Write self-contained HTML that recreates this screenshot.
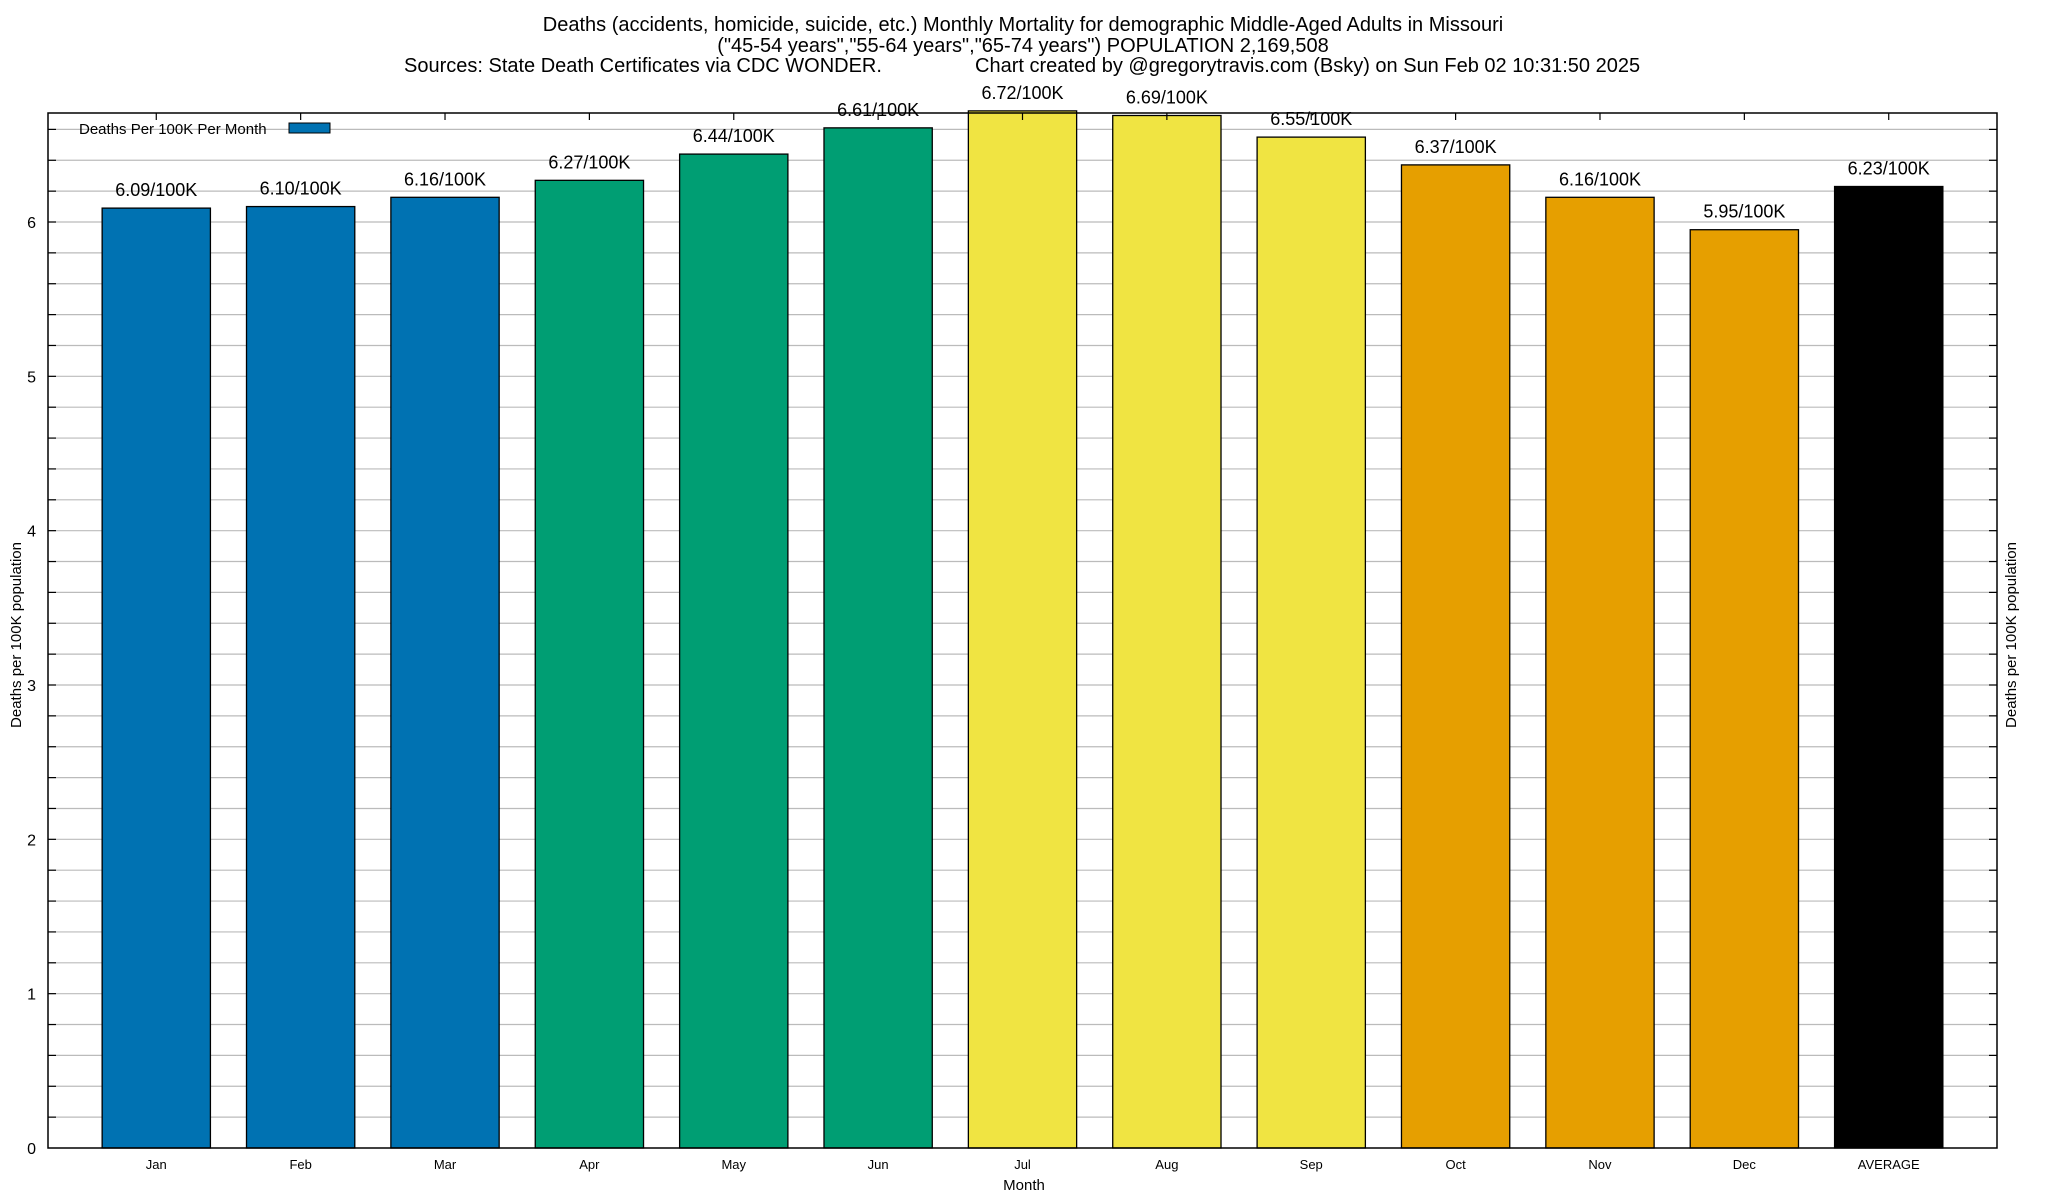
<!DOCTYPE html>
<html><head><meta charset="utf-8"><style>
body{margin:0;background:#fff}
svg{display:block;font-family:"Liberation Sans",Arial,sans-serif}
</style></head><body>
<svg id="chart" width="2048" height="1200" viewBox="0 0 2048 1200">
<g font-size="20" fill="#000" text-anchor="middle">
<text x="1023" y="31">Deaths (accidents, homicide, suicide, etc.) Monthly Mortality for demographic Middle-Aged Adults in Missouri</text>
<text x="1023" y="52">("45-54 years","55-64 years","65-74 years") POPULATION 2,169,508</text>
<text x="404" y="72" text-anchor="start">Sources: State Death Certificates via CDC WONDER.</text>
<text x="975" y="72" text-anchor="start">Chart created by @gregorytravis.com (Bsky) on Sun Feb 02 10:31:50 2025</text>
</g>
<g id="grid"></g>
<g id="bars"></g>
<rect x="48" y="113" width="1949" height="1035" fill="none" stroke="#000" stroke-width="1.5"/>
<g id="axes"></g>
<g>
<text x="79" y="134" font-size="15">Deaths Per 100K Per Month</text>
<rect x="289" y="123" width="41" height="10" fill="#0072b2" stroke="#000"/>
</g>
<text x="1024" y="1190" font-size="15" text-anchor="middle">Month</text>
<text transform="translate(21,635) rotate(-90)" font-size="15" text-anchor="middle">Deaths per 100K population</text>
<text transform="translate(2016,635) rotate(-90)" font-size="15" text-anchor="middle">Deaths per 100K population</text>
</svg>
<script>
const categories=["Jan","Feb","Mar","Apr","May","Jun","Jul","Aug","Sep","Oct","Nov","Dec","AVERAGE"];
const values=[6.09,6.10,6.16,6.27,6.44,6.61,6.72,6.69,6.55,6.37,6.16,5.95,6.23];
const barColors=["#0072b2","#0072b2","#0072b2","#009e73","#009e73","#009e73","#f0e442","#f0e442","#f0e442","#e69f00","#e69f00","#e69f00","#000000"];
const yTicks=[0,1,2,3,4,5,6];
const NS="http://www.w3.org/2000/svg";
const L=48,R=1997,T=113,B=1148;
const xMin=-0.75,xMax=12.75;
const yScale=(B-222)/6;
function X(i){return L+(i-xMin)/(xMax-xMin)*(R-L);}
function Y(v){return B-v*yScale;}
function mk(tag,attrs,parent){const e=document.createElementNS(NS,tag);for(const k in attrs)e.setAttribute(k,attrs[k]);parent.appendChild(e);return e;}
const grid=document.getElementById('grid'),bars=document.getElementById('bars'),axes=document.getElementById('axes');
for(let k=1;k*0.2<=6.71;k++){
  const y=Y(k*0.2);
  const g=mk('line',{x1:L,x2:R,y1:y,y2:y,stroke:'#bbb','stroke-width':1.2},grid);
  
  
  const t1=mk('line',{x1:L,x2:L+8,y1:y,y2:y,stroke:'#000','stroke-width':1.2},axes);
  
  
  const t2=mk('line',{x1:R-8,x2:R,y1:y,y2:y,stroke:'#000','stroke-width':1.2},axes);
  
  
}
yTicks.forEach(v=>{
  const t=mk('text',{x:L-12,y:Y(v)+6,'font-size':16,'text-anchor':'end'},axes);
  t.textContent=v;
  
  
});
categories.forEach((c,i)=>{
  const cx=X(i),w=0.75*(R-L)/(xMax-xMin);
  const r=mk('rect',{x:cx-w/2,y:Y(values[i]),width:w,height:B-Y(values[i]),fill:barColors[i],stroke:'#000','stroke-width':1.3},bars);
  
  
  const lb=mk('text',{x:cx,y:Y(values[i])-12,'font-size':18,'text-anchor':'middle'},bars);
  lb.textContent=values[i].toFixed(2)+"/100K";
  
  
  const tk=mk('line',{x1:cx,x2:cx,y1:T,y2:T+7,stroke:'#000','stroke-width':1.2},axes);
  
  
  const xl=mk('text',{x:cx,y:1169,'font-size':13,'text-anchor':'middle'},axes);
  xl.textContent=c;
  
  
});
</script>
</body></html>
